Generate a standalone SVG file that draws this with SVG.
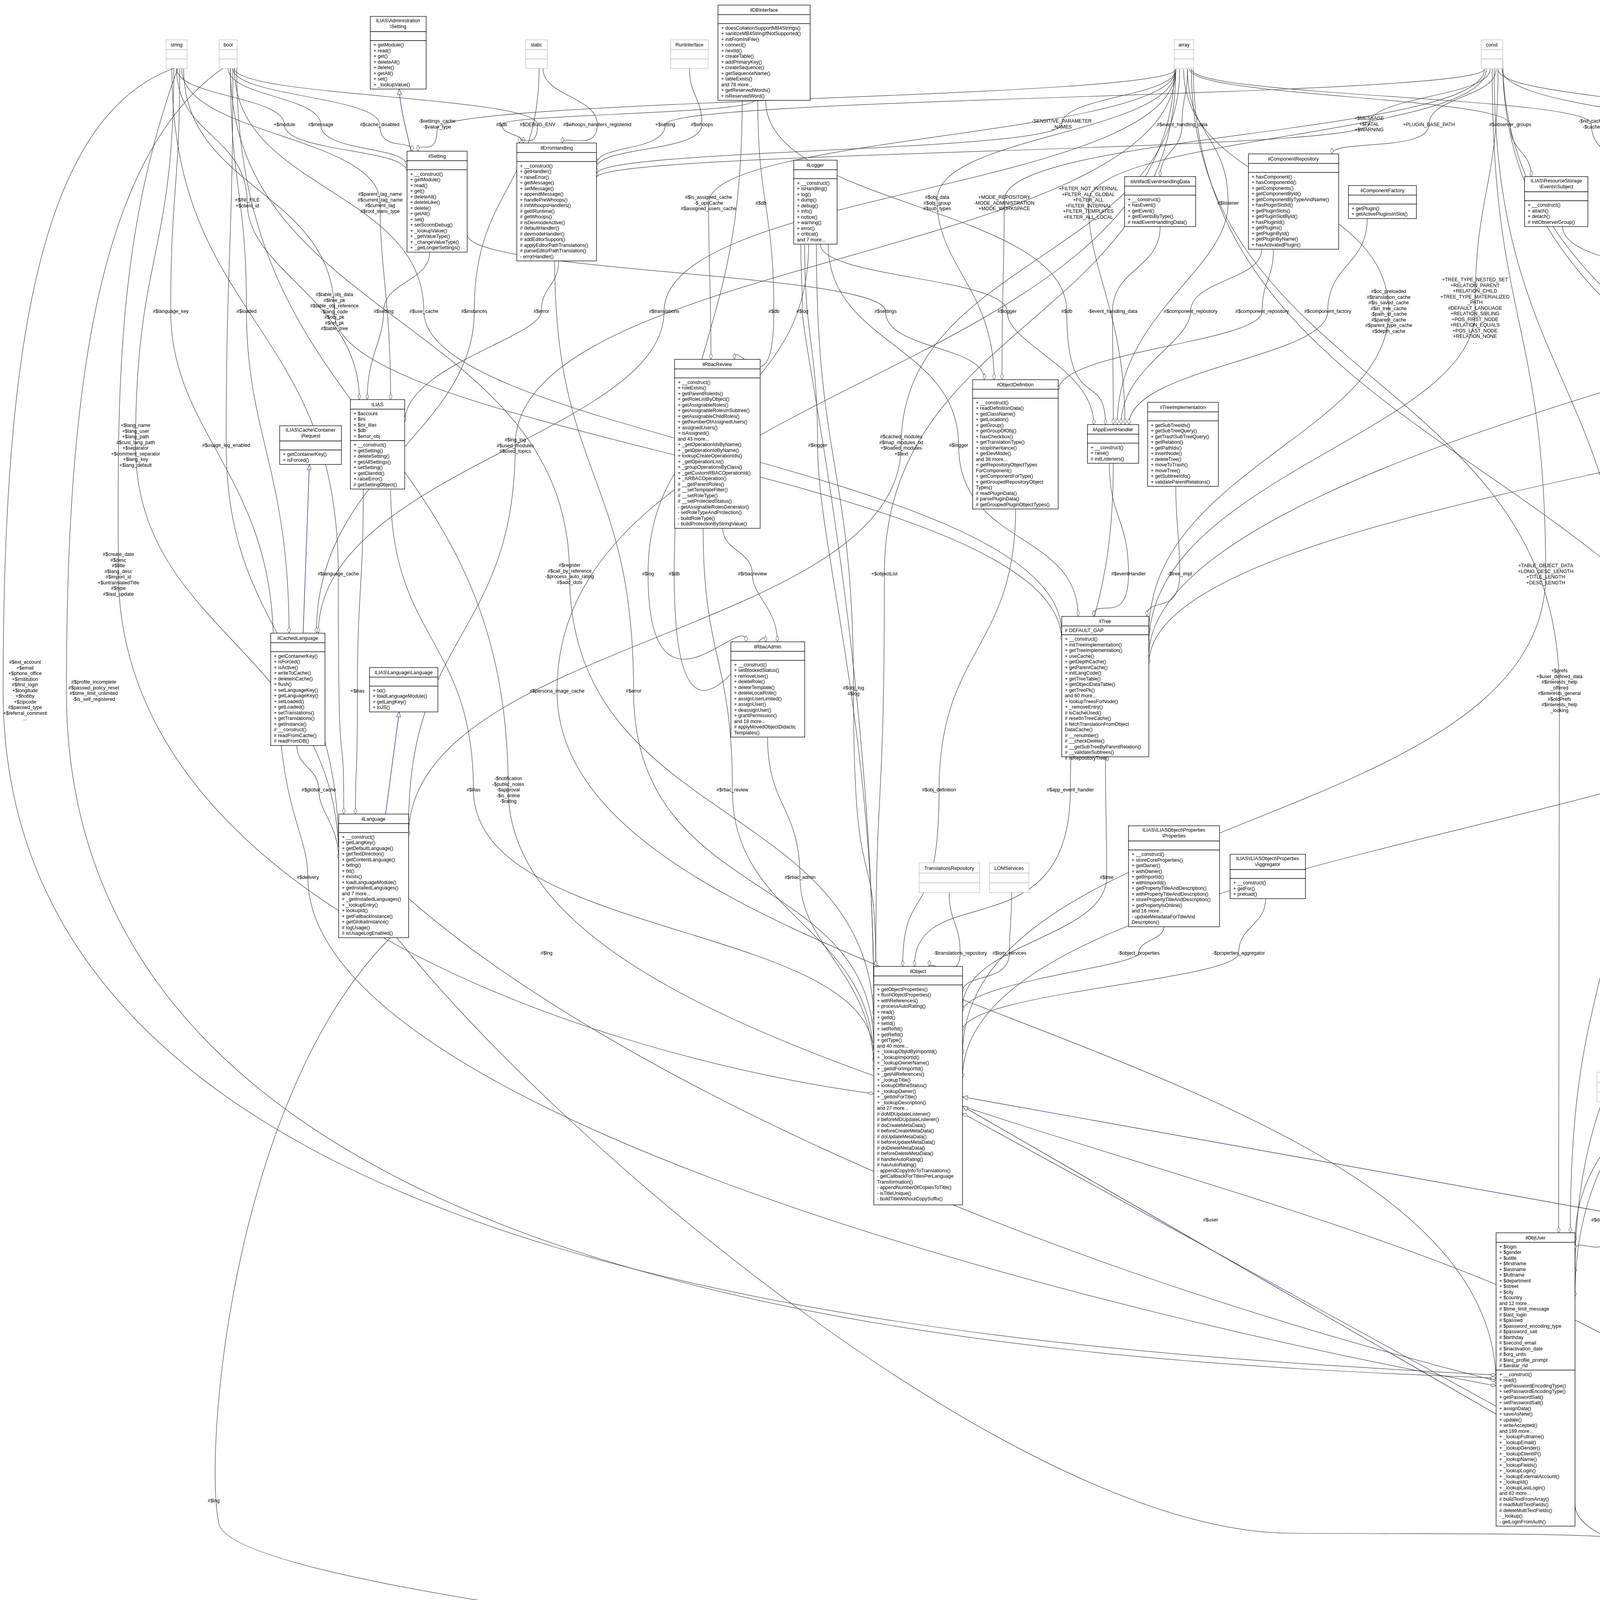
<svg xmlns="http://www.w3.org/2000/svg" width="5993" height="4473" viewBox="0 0 5993 4473">
<style>
text{font-family:"Liberation Sans",Arial,sans-serif;font-size:12.5px;fill:#000}
.t{text-anchor:middle}
.l{text-anchor:middle}
.b{fill:#fff;stroke:#000;stroke-width:1.3}
.g{fill:#fff;stroke:#bfbfbf;stroke-width:1.3}
.h{fill:#bfbfbf;stroke:#000;stroke-width:1.3}
.e{fill:none;stroke:#404040;stroke-width:1.2;marker-end:url(#d)}
.i{fill:none;stroke:#191970;stroke-width:1.2;marker-end:url(#tri)}
</style>
<defs>
<marker id="d" viewBox="0 0 16 9" refX="16" refY="4.5" markerWidth="16" markerHeight="9" orient="auto" markerUnits="userSpaceOnUse"><path d="M0.5,4.5 L8,0.5 L15.5,4.5 L8,8.5 Z" fill="#fff" stroke="#404040"/></marker>
<marker id="tri" viewBox="0 0 14 12" refX="14" refY="6" markerWidth="14" markerHeight="12" orient="auto" markerUnits="userSpaceOnUse"><path d="M0.5,0.5 L13.5,6 L0.5,11.5 Z" fill="#fff" stroke="#191970"/></marker>
</defs>
<rect width="5993" height="4473" fill="#fff"/>
<g id="connectors">
<path class="e" d="M452,175 C452,247 728,247 728,319 S1042,379 1042,440"/>
<path class="e" d="M584,175 C584,247 821,247 821,319 S1042,372 1042,425"/>
<path class="e" d="M596,175 C596,247 972,247 972,319 S1055,353 1055,387"/>
<path class="e" d="M3010,177 C3010,253 1119,253 1119,330 S1070,358 1070,387"/>
<path class="e" d="M1930,257 C1930,292 1284,292 1284,319 S1340,342 1340,366"/>
<path class="e" d="M600,175 C600,247 1376,247 1376,319 S1330,342 1330,366"/>
<path class="e" d="M1390,175 C1390,247 1529,247 1529,319 S1440,342 1440,366"/>
<path class="e" d="M1765,175 C1765,247 1797,247 1797,319 S1527,374 1527,430"/>
<path class="e" d="M3800,177 C3800,248 1703,248 1703,319 S1527,369 1527,420"/>
<path class="e" d="M3010,177 C3010,247 2718,247 2718,318 S1527,381 1527,445"/>
<path class="e" d="M3040,177 C3040,248 3026,248 3026,319 S2970,385 2970,452"/>
<path class="e" d="M3815,177 C3815,247 3505,247 3505,318 S1527,386 1527,455"/>
<path class="e" d="M3830,177 C3830,248 3658,248 3658,319 S3410,356 3410,394"/>
<path class="e" d="M3045,177 C3045,248 3866,248 3866,319 S3920,385 3920,452"/>
<path class="e" d="M3010,177 C3010,344 2399,344 2399,512 S2545,742 2545,972"/>
<path class="e" d="M3800,177 C3800,344 2571,344 2571,512 S2565,742 2565,972"/>
<path class="e" d="M3805,177 C3805,348 2786,348 2786,520 S2880,803 2880,1087"/>
<path class="e" d="M3040,177 C3040,348 3144,348 3144,520 S2860,803 2860,1087"/>
<path class="e" d="M3030,177 C3030,487 3555,487 3555,797 S2941,1208 2941,1620"/>
<path class="e" d="M3835,177 C3835,487 3776,487 3776,797 S2941,1223 2941,1650"/>
<path class="e" d="M2050,625 C2050,711 2054,711 2054,797 S2237,1698 2237,2600"/>
<path class="e" d="M1196,600 C1196,698 2267,698 2267,797 S2520,884 2520,972"/>
<path class="e" d="M2100,625 C2100,711 2578,711 2578,797 S2800,942 2800,1087"/>
<path class="e" d="M1960,257 C1960,527 2731,527 2731,797 S2830,942 2830,1087"/>
<path class="e" d="M2970,580 C2970,688 2848,688 2848,797 S2850,942 2850,1087"/>
<path class="e" d="M3230,638 C3230,717 3048,717 3048,797 S2870,942 2870,1087"/>
<path class="e" d="M3260,638 C3260,717 3231,717 3231,797 S2709,898 2709,1000"/>
<path class="e" d="M3500,560 C3500,678 3399,678 3399,797 S2890,942 2890,1087"/>
<path class="e" d="M2060,625 C2060,882 2093,882 2093,1140 S2237,1850 2237,2560"/>
<path class="e" d="M3020,177 C3020,658 2307,658 2307,1140 S1046,1640 1046,2140"/>
<path class="e" d="M2120,625 C2120,882 2454,882 2454,1140 S2760,1359 2760,1578"/>
<path class="e" d="M3010,177 C3010,823 2264,823 2264,1469 S2242,1971 2242,2474"/>
<path class="e" d="M2840,1186 C2840,1327 2889,1327 2889,1469 S2800,1523 2800,1578"/>
<path class="e" d="M3010,1245 C3010,1357 3020,1357 3020,1469 S2936,1523 2936,1578"/>
<path class="e" d="M5530,177 C5530,487 5384,487 5384,797 S2941,1248 2941,1700"/>
<path class="e" d="M4000,580 C4000,688 4429,688 4429,797 S4550,921 4550,1045"/>
<path class="e" d="M4230,640 C4230,718 4528,718 4528,797 S4575,921 4575,1045"/>
<path class="e" d="M4500,560 C4500,678 4633,678 4633,797 S4605,921 4605,1045"/>
<path class="e" d="M4706,595 C4706,696 4732,696 4732,797 S4640,921 4640,1045"/>
<path class="e" d="M4860,624 C4860,710 4874,710 4874,797 S4672,921 4672,1045"/>
<path class="e" d="M5050,566 C5050,681 4981,681 4981,797 S4680,921 4680,1045"/>
<path class="e" d="M5250,602 C5250,699 5202,699 5202,797 S4685,921 4685,1045"/>
<path class="e" d="M3835,177 C3835,248 4370,248 4370,319 S4330,510 4330,701"/>
<path class="e" d="M3050,177 C3050,247 4074,247 4074,318 S4139,384 4139,450"/>
<path class="e" d="M3845,177 C3845,348 5643,348 5643,520 S2941,1100 2941,1680"/>
<path class="e" d="M5468,1546 C5468,1993 5390,1993 5390,2440 S4772,3279 4772,4118"/>
<path class="e" d="M3847,160 C3847,1091 5193,1091 5193,2022 S4772,3047 4772,4073"/>
<path class="e" d="M3847,150 C3847,1198 5731,1198 5731,2246 S4714,3328 4714,4410"/>
<path class="e" d="M5555,177 C5555,1211 5900,1211 5900,2246 S4714,3323 4714,4400"/>
<path class="e" d="M5545,177 C5545,973 5717,973 5717,1770 S4032,2475 4032,3180"/>
<path class="e" d="M5535,177 C5535,823 5068,823 5068,1470 S2464,2115 2464,2760"/>
<path class="e" d="M3820,177 C3820,823 3957,823 3957,1470 S2464,2085 2464,2700"/>
<path class="e" d="M3050,177 C3050,973 3992,973 3992,1770 S3990,2463 3990,3156"/>
<path class="e" d="M3825,177 C3825,972 4174,972 4174,1768 S4020,2462 4020,3156"/>
<path class="e" d="M4266,887 C4266,1454 4342,1454 4342,2022 S4032,2641 4032,3260"/>
<path class="e" d="M4560,1231 C4560,1738 4437,1738 4437,2246 S4032,2783 4032,3320"/>
<path class="e" d="M3055,177 C3055,1213 4553,1213 4553,2250 S4590,3298 4590,4346"/>
<path class="e" d="M4145,2821 C4145,2965 4136,2965 4136,3110 S4032,3155 4032,3200"/>
<path class="e" d="M4032,3850 C4032,3988 4513,3988 4513,4126 S4547,4236 4547,4346"/>
<path class="e" d="M4645,4274 C4645,4293 4658,4293 4658,4313 S4632,4329 4632,4346"/>
<path class="e" d="M3830,3600 L2464,2850"/>
<path class="e" d="M1000,2400 C600,2800 520,3700 560,3900 S3000,4330 4520,4410"/>
<path class="e" d="M1046,2300 C1500,2700 2500,3200 3830,3535"/>
<path class="e" d="M1000,2380 C1400,2900 2600,3920 3300,3925 S4300,3910 4593,4020"/>
<path class="e" d="M1800,1352 C1800,1687 1875,1687 1875,2022 S2237,2371 2237,2720"/>
<path class="e" d="M1965,1887 C1965,2066 2048,2066 2048,2246 S2237,2493 2237,2740"/>
<path class="e" d="M2600,1303 C2600,1662 2404,1662 2404,2022 S2311,2248 2311,2474"/>
<path class="e" d="M2850,1186 C2850,1604 2740,1604 2740,2022 S2341,2248 2341,2474"/>
<path class="e" d="M2830,1937 C2830,2091 2833,2091 2833,2246 S2464,2413 2464,2580"/>
<path class="e" d="M2430,2285 C2430,2362 2458,2362 2458,2440 S2379,2457 2379,2474"/>
<path class="e" d="M2590,2285 C2590,2362 2584,2362 2584,2440 S2464,2490 2464,2540"/>
<path class="e" d="M2980,2372 C2980,2406 2915,2406 2915,2440 S2464,2515 2464,2590"/>
<path class="e" d="M3240,2300 C3240,2370 3171,2370 3171,2440 S2464,2540 2464,2640"/>
<path class="e" d="M1000,1252 C1000,1637 1212,1637 1212,2022 S2237,2361 2237,2700"/>
<path class="e" d="M606,175 C606,1097 1301,1097 1301,2020 S4593,3010 4593,4000"/>
<path class="e" d="M3006,177 C3006,973 1426,973 1426,1769 S3830,2657 3830,3545"/>
<path class="e" d="M1420,668 C1420,1218 1622,1218 1622,1769 S2237,2224 2237,2680"/>
<path class="e" d="M2090,625 C2090,1196 2185,1196 2185,1768 S2242,2121 2242,2474"/>
<path class="e" d="M930,1252 C930,1510 915,1510 915,1769 S910,1926 910,2084"/>
<path class="e" d="M760,1908 C760,1965 816,1965 816,2022 S867,2111 867,2200"/>
<path class="e" d="M440,175 C440,822 866,822 866,1469 S880,1776 880,2084"/>
<path class="e" d="M3010,177 C3010,658 1319,658 1319,1140 S1046,1625 1046,2110"/>
<path class="e" d="M590,175 C590,822 1458,822 1458,1470 S2237,2045 2237,2620"/>
<path class="e" d="M2070,625 C2070,1047 1659,1047 1659,1469 S1910,1556 1910,1643"/>
<path class="e" d="M1900,257 C1900,863 1726,863 1726,1469 S1960,1556 1960,1643"/>
<path class="e" d="M1850,1352 C1850,1410 1926,1410 1926,1469 S1990,1556 1990,1643"/>
<path class="e" d="M445,175 C100,300 8,900 8,1770 C8,3300 2500,3450 3830,3520"/>
<path class="e" d="M570,175 C250,400 170,1000 170,1770 C170,3350 2600,3480 3830,3528"/>
<path class="e" d="M455,175 C300,600 300,1000 303,1470 C310,2300 1500,2700 2237,2800"/>
<path class="e" d="M460,175 C460,486 437,486 437,797 S700,1223 700,1650"/>
<path class="e" d="M590,175 C590,486 631,486 631,797 S740,1209 740,1621"/>
<path class="e" d="M600,175 C600,486 1085,486 1085,797 S2718,1208 2718,1620"/>
<path class="e" d="M1380,175 C1380,486 1214,486 1214,797 S810,1209 810,1621"/>
<path class="e" d="M3010,177 C3010,487 1700,487 1700,797 S815,1209 815,1621"/>
<path class="e" d="M1940,257 C1940,527 1981,527 1981,797 S1880,858 1880,920"/>
<path class="e" d="M3010,177 C3010,348 1814,348 1814,520 S1820,720 1820,920"/>
<path class="e" d="M452,175 C452,347 633,347 633,520 S920,771 920,1023"/>
<path class="e" d="M465,175 C465,347 973,347 973,520 S1000,771 1000,1023"/>
<path class="e" d="M1100,645 C1100,721 982,721 982,797 S940,910 940,1023"/>
<path class="e" d="M1430,668 C1430,732 1386,732 1386,797 S1036,938 1036,1080"/>
<path class="e" d="M470,175 C470,487 856,487 856,800 S2718,1220 2718,1640"/>
<path class="e" d="M445,175 C445,657 347,657 347,1140 S867,1670 867,2200"/>
<path class="e" d="M596,175 C596,657 579,657 579,1140 S867,1660 867,2180"/>
<path class="e" d="M720,1908 C740,2100 788,2150 788,2246 C788,2800 2500,3300 3830,3548"/>
<path class="i" d="M1052,387 C1040,330 1025,280 1022,228"/>
<path class="i" d="M776,1621 L792,1189"/>
<path class="i" d="M987,2084 L1022,1822"/>
<path class="i" d="M5104,467 L5196,264"/>
<path class="i" d="M5325,431 L5297,264"/>
<path class="i" d="M4335,3383 C4320,3250 4260,3140 4205,3120 L2464,2808"/>
<path class="i" d="M3830,3620 L2464,2832"/>
<path class="i" d="M4600,3972 L4421,3680"/>
</g>
<g id="labels">
<text class="l" x="728" y="323">+$module</text>
<text class="l" x="821" y="323">#$message</text>
<text class="l" x="972" y="323">#$cache_disabled</text>
<text class="l" x="1119" y="314">-$settings_cache<tspan x="1119" dy="14.5">-$value_type</tspan></text>
<text class="l" x="1284" y="323">#$db</text>
<text class="l" x="1376" y="323">#$DEBUG_ENV</text>
<text class="l" x="1529" y="323">#$whoops_handlers_registered</text>
<text class="l" x="1703" y="323">+$setting</text>
<text class="l" x="1797" y="323">#$whoops</text>
<text class="l" x="633" y="516">+$INI_FILE<tspan x="633" dy="14.5">+$client_id</tspan></text>
<text class="l" x="973" y="501">#$parent_tag_name<tspan x="973" dy="14.5">#$current_tag_name</tspan><tspan x="973" dy="14.5">#$current_tag</tspan><tspan x="973" dy="14.5">#$root_trans_type</tspan></text>
<text class="l" x="1814" y="509">#$is_assigned_cache<tspan x="1814" dy="14.5">-$_opsCache</tspan><tspan x="1814" dy="14.5">#$assigned_users_cache</tspan></text>
<text class="l" x="1948" y="524">#$db</text>
<text class="l" x="856" y="758">#$table_obj_data<tspan x="856" dy="14.5">#$tree_pk</tspan><tspan x="856" dy="14.5">#$table_obj_reference</tspan><tspan x="856" dy="14.5">-$lang_code</tspan><tspan x="856" dy="14.5">#$obj_pk</tspan><tspan x="856" dy="14.5">#$ref_pk</tspan><tspan x="856" dy="14.5">#$table_tree</tspan></text>
<text class="l" x="437" y="801">#$language_key</text>
<text class="l" x="631" y="801">#$loaded</text>
<text class="l" x="982" y="801">#$setting</text>
<text class="l" x="1085" y="801">#$use_cache</text>
<text class="l" x="1214" y="801">#$instances</text>
<text class="l" x="1386" y="801">#$error</text>
<text class="l" x="1700" y="801">#$translations</text>
<text class="l" x="1981" y="801">#$db</text>
<text class="l" x="347" y="1093">+$lang_name<tspan x="347" dy="14.5">+$lang_user</tspan><tspan x="347" dy="14.5">+$lang_path</tspan><tspan x="347" dy="14.5">#$cust_lang_path</tspan><tspan x="347" dy="14.5">+$separator</tspan><tspan x="347" dy="14.5">+$comment_separator</tspan><tspan x="347" dy="14.5">+$lang_key</tspan><tspan x="347" dy="14.5">+$lang_default</tspan></text>
<text class="l" x="579" y="1144">#$usage_log_enabled</text>
<text class="l" x="1319" y="1130">#$lng_log<tspan x="1319" dy="14.5">#$used_modules</tspan><tspan x="1319" dy="14.5">#$used_topics</tspan></text>
<text class="l" x="303" y="1423">#$create_date<tspan x="303" dy="14.5">#$desc</tspan><tspan x="303" dy="14.5">#$title</tspan><tspan x="303" dy="14.5">#$lang_desc</tspan><tspan x="303" dy="14.5">#$import_id</tspan><tspan x="303" dy="14.5">+$untranslatedTitle</tspan><tspan x="303" dy="14.5">#$type</tspan><tspan x="303" dy="14.5">#$last_update</tspan></text>
<text class="l" x="866" y="1473">#$language_cache</text>
<text class="l" x="1458" y="1451">#$register<tspan x="1458" dy="14.5">#$call_by_reference</tspan><tspan x="1458" dy="14.5">-$process_auto_rating</tspan><tspan x="1458" dy="14.5">#$add_dots</tspan></text>
<text class="l" x="1659" y="1473">#$log</text>
<text class="l" x="1726" y="1473">#$db</text>
<text class="l" x="1926" y="1473">#$rbacreview</text>
<text class="l" x="2718" y="314">-SENSITIVE_PARAMETER<tspan x="2718" dy="14.5">_NAMES</tspan></text>
<text class="l" x="3026" y="323">#$event_handling_data</text>
<text class="l" x="3505" y="307">+$MESSAGE<tspan x="3505" dy="14.5">+$FATAL</tspan><tspan x="3505" dy="14.5">+$WARNING</tspan></text>
<text class="l" x="3658" y="323">+PLUGIN_BASE_PATH</text>
<text class="l" x="3866" y="323">#$observer_groups</text>
<text class="l" x="2399" y="509">#$obj_data<tspan x="2399" dy="14.5">#$obj_group</tspan><tspan x="2399" dy="14.5">#$sub_types</tspan></text>
<text class="l" x="2571" y="509">+MODE_REPOSITORY<tspan x="2571" dy="14.5">-MODE_ADMINISTRATION</tspan><tspan x="2571" dy="14.5">+MODE_WORKSPACE</tspan></text>
<text class="l" x="2786" y="487">+FILTER_NOT_INTERNAL<tspan x="2786" dy="14.5">+FILTER_ALL_GLOBAL</tspan><tspan x="2786" dy="14.5">+FILTER_ALL</tspan><tspan x="2786" dy="14.5">+FILTER_INTERNAL</tspan><tspan x="2786" dy="14.5">+FILTER_TEMPLATES</tspan><tspan x="2786" dy="14.5">+FILTER_ALL_LOCAL</tspan></text>
<text class="l" x="3144" y="524">#$listener</text>
<text class="l" x="3555" y="750">#$oc_preloaded<tspan x="3555" dy="14.5">#$translation_cache</tspan><tspan x="3555" dy="14.5">#$is_saved_cache</tspan><tspan x="3555" dy="14.5">#$in_tree_cache</tspan><tspan x="3555" dy="14.5">-$path_id_cache</tspan><tspan x="3555" dy="14.5">#$parent_cache</tspan><tspan x="3555" dy="14.5">#$parent_type_cache</tspan><tspan x="3555" dy="14.5">#$depth_cache</tspan></text>
<text class="l" x="3776" y="720">+TREE_TYPE_NESTED_SET<tspan x="3776" dy="14.5">+RELATION_PARENT</tspan><tspan x="3776" dy="14.5">+RELATION_CHILD</tspan><tspan x="3776" dy="14.5">+TREE_TYPE_MATERIALIZED</tspan><tspan x="3776" dy="14.5">_PATH</tspan><tspan x="3776" dy="14.5">#DEFAULT_LANGUAGE</tspan><tspan x="3776" dy="14.5">+RELATION_SIBLING</tspan><tspan x="3776" dy="14.5">+POS_FIRST_NODE</tspan><tspan x="3776" dy="14.5">+RELATION_EQUALS</tspan><tspan x="3776" dy="14.5">+POS_LAST_NODE</tspan><tspan x="3776" dy="14.5">+RELATION_NONE</tspan><tspan x="3776" dy="14.5">...</tspan></text>
<text class="l" x="2054" y="801">#$log</text>
<text class="l" x="2267" y="801">#$settings</text>
<text class="l" x="2578" y="801">#$logger</text>
<text class="l" x="2731" y="801">#$db</text>
<text class="l" x="2848" y="801">-$event_handling_data</text>
<text class="l" x="3048" y="801">#$component_repository</text>
<text class="l" x="3231" y="801">#$component_repository</text>
<text class="l" x="3399" y="801">#$component_factory</text>
<text class="l" x="2093" y="1144">#$logger</text>
<text class="l" x="2307" y="1122">#$cached_modules<tspan x="2307" dy="14.5">#$map_modules_txt</tspan><tspan x="2307" dy="14.5">+$loaded_modules</tspan><tspan x="2307" dy="14.5">+$text</tspan></text>
<text class="l" x="2454" y="1144">#$logger</text>
<text class="l" x="2264" y="1473">+$objectList</text>
<text class="l" x="2889" y="1473">#$eventHandler</text>
<text class="l" x="3020" y="1473">-$tree_impl</text>
<text class="l" x="3957" y="1452">+TABLE_OBJECT_DATA<tspan x="3957" dy="14.5">+LONG_DESC_LENGTH</tspan><tspan x="3957" dy="14.5">+TITLE_LENGTH</tspan><tspan x="3957" dy="14.5">+DESC_LENGTH</tspan></text>
<text class="l" x="3992" y="1721">+$prefs<tspan x="3992" dy="14.5">+$user_defined_data</tspan><tspan x="3992" dy="14.5">#$interests_help</tspan><tspan x="3992" dy="14.5">_offered</tspan><tspan x="3992" dy="14.5">#$interests_general</tspan><tspan x="3992" dy="14.5">#$oldPrefs</tspan><tspan x="3992" dy="14.5">#$interests_help</tspan><tspan x="3992" dy="14.5">_looking</tspan></text>
<text class="l" x="4174" y="1758">+PASSWD_CRYPTED<tspan x="4174" dy="14.5">+NO_AVATAR_RID</tspan><tspan x="4174" dy="14.5">+PASSWD_PLAIN</tspan></text>
<text class="l" x="4342" y="2019">-$cron_delete_user<tspan x="4342" dy="14.5">_reminder_mail</tspan></text>
<text class="l" x="4074" y="314">-$rid_cache<tspan x="4074" dy="14.5">-$cache</tspan></text>
<text class="l" x="4370" y="323">+TABLE_NAME</text>
<text class="l" x="5643" y="524">-TABLE_NAME</text>
<text class="l" x="4429" y="801">#$events</text>
<text class="l" x="4528" y="801">#$collections</text>
<text class="l" x="4633" y="801">#$preloader</text>
<text class="l" x="4732" y="801">#$flavours</text>
<text class="l" x="4874" y="801">#$consumers</text>
<text class="l" x="4981" y="801">#$manager</text>
<text class="l" x="5202" y="801">#$container_manager</text>
<text class="l" x="5384" y="786">#$tree_id<tspan x="5384" dy="14.5">-$gap</tspan><tspan x="5384" dy="14.5">#$root_id</tspan></text>
<text class="l" x="5068" y="1451">#$ref_id<tspan x="5068" dy="14.5">#$max_desc</tspan><tspan x="5068" dy="14.5">#$max_title</tspan><tspan x="5068" dy="14.5">#$owner</tspan></text>
<text class="l" x="64" y="1699">#$ext_account<tspan x="64" dy="14.5">+$email</tspan><tspan x="64" dy="14.5">+$phone_office</tspan><tspan x="64" dy="14.5">+$institution</tspan><tspan x="64" dy="14.5">#$first_login</tspan><tspan x="64" dy="14.5">+$longitude</tspan><tspan x="64" dy="14.5">+$hobby</tspan><tspan x="64" dy="14.5">+$zipcode</tspan><tspan x="64" dy="14.5">#$passwd_type</tspan><tspan x="64" dy="14.5">+$referral_comment</tspan><tspan x="64" dy="14.5">...</tspan></text>
<text class="l" x="240" y="1750">#$profile_incomplete<tspan x="240" dy="14.5">#$passwd_policy_reset</tspan><tspan x="240" dy="14.5">#$time_limit_unlimited</tspan><tspan x="240" dy="14.5">-$is_self_registered</tspan></text>
<text class="l" x="816" y="2026">#$global_cache</text>
<text class="l" x="915" y="1773">+$ilias</text>
<text class="l" x="1212" y="2026">#$ilias</text>
<text class="l" x="1301" y="1997">-$notification<tspan x="1301" dy="14.5">-$public_notes</tspan><tspan x="1301" dy="14.5">-$approval</tspan><tspan x="1301" dy="14.5">-$is_online</tspan><tspan x="1301" dy="14.5">-$rating</tspan></text>
<text class="l" x="1426" y="1773">#$persona_image_cache</text>
<text class="l" x="1622" y="1773">#$error</text>
<text class="l" x="1875" y="2026">#$rbac_review</text>
<text class="l" x="788" y="2250">#$delivery</text>
<text class="l" x="1399" y="2444">#$lng</text>
<text class="l" x="2185" y="1765">#$obj_log<tspan x="2185" dy="14.5">#$log</tspan></text>
<text class="l" x="2404" y="2026">#$obj_definition</text>
<text class="l" x="2740" y="2026">#$app_event_handler</text>
<text class="l" x="2048" y="2250">#$rbac_admin</text>
<text class="l" x="2833" y="2250">#$tree</text>
<text class="l" x="2458" y="2444">-$translations_repository</text>
<text class="l" x="2584" y="2444">#$lom_services</text>
<text class="l" x="2915" y="2444">-$object_properties</text>
<text class="l" x="3171" y="2444">-$properties_aggregator</text>
<text class="l" x="4437" y="2250">-$rss</text>
<text class="l" x="4615" y="2228">#$supported_import<tspan x="4615" dy="14.5">_datatypes</tspan><tspan x="4615" dy="14.5">#$warnings</tspan><tspan x="4615" dy="14.5">#$tables</tspan></text>
<text class="l" x="5218" y="2026">+TYPE</text>
<text class="l" x="5464" y="2444">-$notification_settings</text>
<text class="l" x="5717" y="1735">#$time_limit_owner<tspan x="5717" dy="14.5">+$active</tspan><tspan x="5717" dy="14.5">#$time_limit_from</tspan><tspan x="5717" dy="14.5">#$time_limit_until</tspan><tspan x="5717" dy="14.5">+$login_attempts</tspan><tspan x="5717" dy="14.5">+$last_password_change_ts</tspan></text>
<text class="l" x="5798" y="2250">+EXPORT_EXCEL</text>
<text class="l" x="5952" y="2235">#$ref_id<tspan x="5952" dy="14.5">#$max_imports</tspan><tspan x="5952" dy="14.5">#$table_id</tspan></text>
<text class="l" x="3099" y="3127">#$user</text>
<text class="l" x="4136" y="3127">#$date_format_factory</text>
<text class="l" x="4513" y="4130">#$user</text>
<text class="l" x="4658" y="4317">#$dcl</text>
<text class="l" x="547" y="3846">#$lng</text>
</g>
<g id="n_string"><rect class="g" x="425" y="102" width="54" height="25"/><rect class="g" x="425" y="127" width="54" height="24"/><rect class="g" x="425" y="151" width="54" height="24"/><text class="t" x="452" y="119">string</text></g>
<g id="n_bool"><rect class="g" x="561" y="102" width="46" height="25"/><rect class="g" x="561" y="127" width="46" height="24"/><rect class="g" x="561" y="151" width="46" height="24"/><text class="t" x="584" y="119">bool</text></g>
<g id="n_static"><rect class="g" x="1346" y="102" width="55" height="25"/><rect class="g" x="1346" y="127" width="55" height="24"/><rect class="g" x="1346" y="151" width="55" height="24"/><text class="t" x="1373" y="119">static</text></g>
<g id="n_RunInterface"><rect class="g" x="1717" y="102" width="96" height="25"/><rect class="g" x="1717" y="127" width="96" height="24"/><rect class="g" x="1717" y="151" width="96" height="24"/><text class="t" x="1765" y="119">RunInterface</text></g>
<g id="n_array"><rect class="g" x="3006" y="102" width="50" height="25"/><rect class="g" x="3006" y="127" width="50" height="24"/><rect class="g" x="3006" y="151" width="50" height="24"/><text class="t" x="3031" y="119">array</text></g>
<g id="n_const"><rect class="g" x="3792" y="102" width="55" height="25"/><rect class="g" x="3792" y="127" width="55" height="24"/><rect class="g" x="3792" y="151" width="55" height="24"/><text class="t" x="3819" y="119">const</text></g>
<g id="n_int"><rect class="g" x="5522" y="102" width="38" height="25"/><rect class="g" x="5522" y="127" width="38" height="24"/><rect class="g" x="5522" y="151" width="38" height="24"/><text class="t" x="5541" y="119">int</text></g>
<g id="n_TranslationsRepository"><rect class="g" x="2353" y="2209" width="155" height="26"/><rect class="g" x="2353" y="2235" width="155" height="25"/><rect class="g" x="2353" y="2260" width="155" height="25"/><text class="t" x="2430" y="2227">TranslationsRepository</text></g>
<g id="n_LOMServices"><rect class="g" x="2533" y="2209" width="101" height="26"/><rect class="g" x="2533" y="2235" width="101" height="25"/><rect class="g" x="2533" y="2260" width="101" height="25"/><text class="t" x="2583" y="2227">LOMServices</text></g>
<g id="n_DateFormatFactory"><rect class="g" x="4088" y="2745" width="135" height="26"/><rect class="g" x="4088" y="2771" width="135" height="25"/><rect class="g" x="4088" y="2796" width="135" height="25"/><text class="t" x="4155" y="2763">DateFormatFactory</text></g>
<g id="n_AdminSetting"><rect class="b" x="948" y="42" width="143" height="39"/><rect class="b" x="948" y="81" width="143" height="23"/><rect class="b" x="948" y="104" width="143" height="124"/>
<text class="t" x="1019" y="57">ILIAS\Administration<tspan x="1019" dy="14.5">\Setting</tspan></text>
<text x="956" y="119">+ getModule()<tspan x="956" dy="14.5">+ read()</tspan><tspan x="956" dy="14.5">+ get()</tspan><tspan x="956" dy="14.5">+ deleteAll()</tspan><tspan x="956" dy="14.5">+ delete()</tspan><tspan x="956" dy="14.5">+ getAll()</tspan><tspan x="956" dy="14.5">+ set()</tspan><tspan x="956" dy="14.5">+ _lookupValue()</tspan></text></g>
<g id="n_ilDBInterface"><rect class="b" x="1838" y="13" width="236" height="24.5"/><rect class="b" x="1838" y="37.5" width="236" height="23"/><rect class="b" x="1838" y="60.5" width="236" height="196.5"/>
<text class="t" x="1956" y="30">ilDBInterface</text>
<text x="1846" y="75.5">+ doesCollationSupportMB4Strings()<tspan x="1846" dy="14.5">+ sanitizeMB4StringIfNotSupported()</tspan><tspan x="1846" dy="14.5">+ initFromIniFile()</tspan><tspan x="1846" dy="14.5">+ connect()</tspan><tspan x="1846" dy="14.5">+ nextId()</tspan><tspan x="1846" dy="14.5">+ createTable()</tspan><tspan x="1846" dy="14.5">+ addPrimaryKey()</tspan><tspan x="1846" dy="14.5">+ createSequence()</tspan><tspan x="1846" dy="14.5">+ getSequenceName()</tspan><tspan x="1846" dy="14.5">+ tableExists()</tspan><tspan x="1846" dy="14.5">and 78 more...</tspan><tspan x="1846" dy="14.5">+ getReservedWords()</tspan><tspan x="1846" dy="14.5">+ isReservedWord()</tspan></text></g>
<g id="n_ilSetting"><rect class="b" x="1042" y="387" width="154" height="24.5"/><rect class="b" x="1042" y="411.5" width="154" height="23"/><rect class="b" x="1042" y="434.5" width="154" height="211"/>
<text class="t" x="1119" y="404">ilSetting</text>
<text x="1050" y="449.5">+ __construct()<tspan x="1050" dy="14.5">+ getModule()</tspan><tspan x="1050" dy="14.5">+ read()</tspan><tspan x="1050" dy="14.5">+ get()</tspan><tspan x="1050" dy="14.5">+ deleteAll()</tspan><tspan x="1050" dy="14.5">+ deleteLike()</tspan><tspan x="1050" dy="14.5">+ delete()</tspan><tspan x="1050" dy="14.5">+ getAll()</tspan><tspan x="1050" dy="14.5">+ set()</tspan><tspan x="1050" dy="14.5">+ setScormDebug()</tspan><tspan x="1050" dy="14.5">+ _lookupValue()</tspan><tspan x="1050" dy="14.5">+ _getValueType()</tspan><tspan x="1050" dy="14.5">+ _changeValueType()</tspan><tspan x="1050" dy="14.5">+ _getLongerSettings()</tspan></text></g>
<g id="n_ilErrorHandling"><rect class="b" x="1323" y="366" width="204" height="24.5"/><rect class="b" x="1323" y="390.5" width="204" height="23"/><rect class="b" x="1323" y="413.5" width="204" height="254.5"/>
<text class="t" x="1425" y="383">ilErrorHandling</text>
<text x="1331" y="428.5">+ __construct()<tspan x="1331" dy="14.5">+ getHandler()</tspan><tspan x="1331" dy="14.5">+ raiseError()</tspan><tspan x="1331" dy="14.5">+ getMessage()</tspan><tspan x="1331" dy="14.5">+ setMessage()</tspan><tspan x="1331" dy="14.5">+ appendMessage()</tspan><tspan x="1331" dy="14.5">+ handlePreWhoops()</tspan><tspan x="1331" dy="14.5"># initWhoopsHandlers()</tspan><tspan x="1331" dy="14.5"># getIlRuntime()</tspan><tspan x="1331" dy="14.5"># getWhoops()</tspan><tspan x="1331" dy="14.5"># isDevmodeActive()</tspan><tspan x="1331" dy="14.5"># defaultHandler()</tspan><tspan x="1331" dy="14.5"># devmodeHandler()</tspan><tspan x="1331" dy="14.5"># addEditorSupport()</tspan><tspan x="1331" dy="14.5"># applyEditorPathTranslations()</tspan><tspan x="1331" dy="14.5"># parseEditorPathTranslation()</tspan><tspan x="1331" dy="14.5">- errorHandler()</tspan></text></g>
<g id="n_ILIAS"><rect class="b" x="897" y="1023" width="139" height="24.5"/><rect class="b" x="897" y="1047.5" width="139" height="80.5"/><rect class="b" x="897" y="1128" width="139" height="124"/>
<text class="t" x="966" y="1040">ILIAS</text>
<text x="905" y="1062.5">+ $account<tspan x="905" dy="14.5">+ $ini</tspan><tspan x="905" dy="14.5">+ $ini_ilias</tspan><tspan x="905" dy="14.5">+ $db</tspan><tspan x="905" dy="14.5">+ $error_obj</tspan></text>
<text x="905" y="1143">+ __construct()<tspan x="905" dy="14.5">+ getSetting()</tspan><tspan x="905" dy="14.5">+ deleteSetting()</tspan><tspan x="905" dy="14.5">+ getAllSettings()</tspan><tspan x="905" dy="14.5">+ setSetting()</tspan><tspan x="905" dy="14.5">+ getClientId()</tspan><tspan x="905" dy="14.5">+ raiseError()</tspan><tspan x="905" dy="14.5"># getSettingObject()</tspan></text></g>
<g id="n_CacheRequest"><rect class="b" x="716" y="1090" width="158" height="39"/><rect class="b" x="716" y="1129" width="158" height="23"/><rect class="b" x="716" y="1152" width="158" height="37"/>
<text class="t" x="795" y="1105">ILIAS\Cache\Container<tspan x="795" dy="14.5">\Request</tspan></text>
<text x="724" y="1167">+ getContainerKey()<tspan x="724" dy="14.5">+ isForced()</tspan></text></g>
<g id="n_ilRbacReview"><rect class="b" x="1727" y="920" width="219" height="24.5"/><rect class="b" x="1727" y="944.5" width="219" height="23"/><rect class="b" x="1727" y="967.5" width="219" height="385"/>
<text class="t" x="1836" y="937">ilRbacReview</text>
<text x="1735" y="982.5">+ __construct()<tspan x="1735" dy="14.5">+ roleExists()</tspan><tspan x="1735" dy="14.5">+ getParentRoleIds()</tspan><tspan x="1735" dy="14.5">+ getRoleListByObject()</tspan><tspan x="1735" dy="14.5">+ getAssignableRoles()</tspan><tspan x="1735" dy="14.5">+ getAssignableRolesInSubtree()</tspan><tspan x="1735" dy="14.5">+ getAssignableChildRoles()</tspan><tspan x="1735" dy="14.5">+ getNumberOfAssignedUsers()</tspan><tspan x="1735" dy="14.5">+ assignedUsers()</tspan><tspan x="1735" dy="14.5">+ isAssigned()</tspan><tspan x="1735" dy="14.5">and 43 more...</tspan><tspan x="1735" dy="14.5">+ _getOperationIdsByName()</tspan><tspan x="1735" dy="14.5">+ _getOperationIdByName()</tspan><tspan x="1735" dy="14.5">+ lookupCreateOperationIds()</tspan><tspan x="1735" dy="14.5">+ _getOperationList()</tspan><tspan x="1735" dy="14.5">+ _groupOperationsByClass()</tspan><tspan x="1735" dy="14.5">+ _getCustomRBACOperationId()</tspan><tspan x="1735" dy="14.5">+ _isRBACOperation()</tspan><tspan x="1735" dy="14.5"># __getParentRoles()</tspan><tspan x="1735" dy="14.5"># __setTemplateFilter()</tspan><tspan x="1735" dy="14.5"># __setRoleType()</tspan><tspan x="1735" dy="14.5"># __setProtectedStatus()</tspan><tspan x="1735" dy="14.5">- getAssignableRolesGenerator()</tspan><tspan x="1735" dy="14.5">- setRoleTypeAndProtection()</tspan><tspan x="1735" dy="14.5">- buildRoleType()</tspan><tspan x="1735" dy="14.5">- buildProtectionByStringValue()</tspan></text></g>
<g id="n_ilLogger"><rect class="b" x="2032" y="410" width="111" height="24.5"/><rect class="b" x="2032" y="434.5" width="111" height="23"/><rect class="b" x="2032" y="457.5" width="111" height="167.5"/>
<text class="t" x="2087" y="427">ilLogger</text>
<text x="2040" y="472.5">+ __construct()<tspan x="2040" dy="14.5">+ isHandling()</tspan><tspan x="2040" dy="14.5">+ log()</tspan><tspan x="2040" dy="14.5">+ dump()</tspan><tspan x="2040" dy="14.5">+ debug()</tspan><tspan x="2040" dy="14.5">+ info()</tspan><tspan x="2040" dy="14.5">+ notice()</tspan><tspan x="2040" dy="14.5">+ warning()</tspan><tspan x="2040" dy="14.5">+ error()</tspan><tspan x="2040" dy="14.5">+ critical()</tspan><tspan x="2040" dy="14.5">and 7 more...</tspan></text></g>
<g id="n_ilArtifactEventHandlingData"><rect class="b" x="2879" y="452" width="182" height="24.5"/><rect class="b" x="2879" y="476.5" width="182" height="23"/><rect class="b" x="2879" y="499.5" width="182" height="80.5"/>
<text class="t" x="2970" y="469">ilArtifactEventHandlingData</text>
<text x="2887" y="514.5">+ __construct()<tspan x="2887" dy="14.5">+ hasEvent()</tspan><tspan x="2887" dy="14.5">+ getEvent()</tspan><tspan x="2887" dy="14.5">+ getEventsByType()</tspan><tspan x="2887" dy="14.5"># readEventHandlingData()</tspan></text></g>
<g id="n_ilComponentRepository"><rect class="b" x="3196" y="394" width="231" height="24.5"/><rect class="b" x="3196" y="418.5" width="231" height="23"/><rect class="b" x="3196" y="441.5" width="231" height="196.5"/>
<text class="t" x="3311" y="411">ilComponentRepository</text>
<text x="3204" y="456.5">+ hasComponent()<tspan x="3204" dy="14.5">+ hasComponentId()</tspan><tspan x="3204" dy="14.5">+ getComponents()</tspan><tspan x="3204" dy="14.5">+ getComponentById()</tspan><tspan x="3204" dy="14.5">+ getComponentByTypeAndName()</tspan><tspan x="3204" dy="14.5">+ hasPluginSlotId()</tspan><tspan x="3204" dy="14.5">+ getPluginSlots()</tspan><tspan x="3204" dy="14.5">+ getPluginSlotById()</tspan><tspan x="3204" dy="14.5">+ hasPluginId()</tspan><tspan x="3204" dy="14.5">+ getPlugins()</tspan><tspan x="3204" dy="14.5">+ getPluginById()</tspan><tspan x="3204" dy="14.5">+ getPluginByName()</tspan><tspan x="3204" dy="14.5">+ hasActivatedPlugin()</tspan></text></g>
<g id="n_ilComponentFactory"><rect class="b" x="3452" y="475" width="174" height="24.5"/><rect class="b" x="3452" y="499.5" width="174" height="23"/><rect class="b" x="3452" y="522.5" width="174" height="37"/>
<text class="t" x="3539" y="492">ilComponentFactory</text>
<text x="3460" y="537.5">+ getPlugin()<tspan x="3460" dy="14.5">+ getActivePluginsInSlot()</tspan></text></g>
<g id="n_EventsSubject"><rect class="b" x="3903" y="452" width="162" height="39"/><rect class="b" x="3903" y="491" width="162" height="23"/><rect class="b" x="3903" y="514" width="162" height="66"/>
<text class="t" x="3984" y="467">ILIAS\ResourceStorage<tspan x="3984" dy="14.5">\Events\Subject</tspan></text>
<text x="3911" y="529">+ __construct()<tspan x="3911" dy="14.5">+ attach()</tspan><tspan x="3911" dy="14.5">+ detach()</tspan><tspan x="3911" dy="14.5"># initObserverGroup()</tspan></text></g>
<g id="n_ilObjectDefinition"><rect class="b" x="2490" y="972" width="219" height="24.5"/><rect class="b" x="2490" y="996.5" width="219" height="23"/><rect class="b" x="2490" y="1019.5" width="219" height="283.5"/>
<text class="t" x="2599" y="989">ilObjectDefinition</text>
<text x="2498" y="1034.5">+ __construct()<tspan x="2498" dy="14.5">+ readDefinitionData()</tspan><tspan x="2498" dy="14.5">+ getClassName()</tspan><tspan x="2498" dy="14.5">+ getLocation()</tspan><tspan x="2498" dy="14.5">+ getGroup()</tspan><tspan x="2498" dy="14.5">+ getGroupOfObj()</tspan><tspan x="2498" dy="14.5">+ hasCheckbox()</tspan><tspan x="2498" dy="14.5">+ getTranslationType()</tspan><tspan x="2498" dy="14.5">+ stopInheritance()</tspan><tspan x="2498" dy="14.5">+ getDevMode()</tspan><tspan x="2498" dy="14.5">and 38 more...</tspan><tspan x="2498" dy="14.5">+ getRepositoryObjectTypes</tspan><tspan x="2498" dy="14.5">ForComponent()</tspan><tspan x="2498" dy="14.5">+ getComponentForType()</tspan><tspan x="2498" dy="14.5">+ getGroupedRepositoryObject</tspan><tspan x="2498" dy="14.5">Types()</tspan><tspan x="2498" dy="14.5"># readPluginData()</tspan><tspan x="2498" dy="14.5"># parsePluginData()</tspan><tspan x="2498" dy="14.5"># getGroupedPluginObjectTypes()</tspan></text></g>
<g id="n_ilAppEventHandler"><rect class="b" x="2784" y="1087" width="131" height="24.5"/><rect class="b" x="2784" y="1111.5" width="131" height="23"/><rect class="b" x="2784" y="1134.5" width="131" height="51.5"/>
<text class="t" x="2849" y="1104">ilAppEventHandler</text>
<text x="2792" y="1149.5">+ __construct()<tspan x="2792" dy="14.5">+ raise()</tspan><tspan x="2792" dy="14.5"># initListeners()</tspan></text></g>
<g id="n_ilTreeImplementation"><rect class="b" x="2938" y="1030" width="181" height="24.5"/><rect class="b" x="2938" y="1054.5" width="181" height="23"/><rect class="b" x="2938" y="1077.5" width="181" height="167.5"/>
<text class="t" x="3028" y="1047">ilTreeImplementation</text>
<text x="2946" y="1092.5">+ getSubTreeIds()<tspan x="2946" dy="14.5">+ getSubTreeQuery()</tspan><tspan x="2946" dy="14.5">+ getTrashSubTreeQuery()</tspan><tspan x="2946" dy="14.5">+ getRelation()</tspan><tspan x="2946" dy="14.5">+ getPathIds()</tspan><tspan x="2946" dy="14.5">+ insertNode()</tspan><tspan x="2946" dy="14.5">+ deleteTree()</tspan><tspan x="2946" dy="14.5">+ moveToTrash()</tspan><tspan x="2946" dy="14.5">+ moveTree()</tspan><tspan x="2946" dy="14.5">+ getSubtreeInfo()</tspan><tspan x="2946" dy="14.5">+ validateParentRelations()</tspan></text></g>
<g id="n_BaseManager"><rect class="b" x="5152" y="5" width="236" height="39"/><rect class="b" x="5152" y="44" width="236" height="23"/><rect class="b" x="5152" y="67" width="236" height="196.5"/>
<text class="t" x="5270" y="20">ILIAS\ResourceStorage<tspan x="5270" dy="14.5">\Manager\BaseManager</tspan></text>
<text x="5160" y="82">+ __construct()<tspan x="5160" dy="14.5">+ publish()</tspan><tspan x="5160" dy="14.5">+ unpublish()</tspan><tspan x="5160" dy="14.5">+ find()</tspan><tspan x="5160" dy="14.5">+ getResource()</tspan><tspan x="5160" dy="14.5">+ remove()</tspan><tspan x="5160" dy="14.5">+ clone()</tspan><tspan x="5160" dy="14.5">+ appendNewRevision()</tspan><tspan x="5160" dy="14.5">+ replaceWithUpload()</tspan><tspan x="5160" dy="14.5">+ appendNewRevisionFromStream()</tspan><tspan x="5160" dy="14.5">and 6 more...</tspan><tspan x="5160" dy="14.5"># checkZIP()</tspan><tspan x="5160" dy="14.5"># newStreamBased()</tspan></text></g>
<g id="n_Collections"><rect class="b" x="4139" y="396" width="184" height="53.5"/><rect class="b" x="4139" y="449.5" width="184" height="23"/><rect class="b" x="4139" y="472.5" width="184" height="167.5"/>
<text class="t" x="4231" y="411">ILIAS\Export\ImportHandler<tspan x="4231" dy="14.5">\Parser\NodeInfo\Collection</tspan><tspan x="4231" dy="14.5">\Collections</tspan></text>
<text x="4147" y="487.5">+ __construct()<tspan x="4147" dy="14.5">+ id()</tspan><tspan x="4147" dy="14.5">+ exists()</tspan><tspan x="4147" dy="14.5">+ idOrNull()</tspan><tspan x="4147" dy="14.5">+ get()</tspan><tspan x="4147" dy="14.5">+ store()</tspan><tspan x="4147" dy="14.5">+ clone()</tspan><tspan x="4147" dy="14.5">+ remove()</tspan><tspan x="4147" dy="14.5">+ rangeAsArray()</tspan><tspan x="4147" dy="14.5">+ rangeAsGenerator()</tspan><tspan x="4147" dy="14.5">+ sort()</tspan></text></g>
<g id="n_ilCronDeleteInactiveUserReminderMail"><rect class="b" x="4161" y="701" width="210" height="39"/><rect class="b" x="4161" y="740" width="210" height="23"/><rect class="b" x="4161" y="763" width="210" height="124"/>
<text class="t" x="4266" y="716">ilCronDeleteInactiveUser<tspan x="4266" dy="14.5">ReminderMail</tspan></text>
<text x="4169" y="778">+ __construct()<tspan x="4169" dy="14.5">+ removeEntriesFromTableIf</tspan><tspan x="4169" dy="14.5">LastLoginIsNewer()</tspan><tspan x="4169" dy="14.5">+ sendReminderMailIfNeeded()</tspan><tspan x="4169" dy="14.5">+ flushDataTable()</tspan><tspan x="4169" dy="14.5">+ removeSingleUserFromTable()</tspan><tspan x="4169" dy="14.5">- persistMailSent()</tspan><tspan x="4169" dy="14.5">- sendReminder()</tspan></text></g>
<g id="n_RepositoryPreloader"><rect class="b" x="4398" y="475" width="203" height="39"/><rect class="b" x="4398" y="514" width="203" height="23"/><rect class="b" x="4398" y="537" width="203" height="22.5"/>
<text class="t" x="4499" y="490">ILIAS\ResourceStorage<tspan x="4499" dy="14.5">\Preloader\RepositoryPreloader</tspan></text>
<text x="4406" y="552">+ preload()</text></g>
<g id="n_Flavours"><rect class="b" x="4626" y="438" width="160" height="39"/><rect class="b" x="4626" y="477" width="160" height="23"/><rect class="b" x="4626" y="500" width="160" height="95"/>
<text class="t" x="4706" y="453">ILIAS\ResourceStorage<tspan x="4706" dy="14.5">\Flavour\Flavours</tspan></text>
<text x="4634" y="515">+ __construct()<tspan x="4634" dy="14.5">+ get()</tspan><tspan x="4634" dy="14.5">+ ensure()</tspan><tspan x="4634" dy="14.5">+ has()</tspan><tspan x="4634" dy="14.5">+ remove()</tspan><tspan x="4634" dy="14.5">+ possible()</tspan></text></g>
<g id="n_Consumers"><rect class="b" x="4810" y="409" width="161" height="39"/><rect class="b" x="4810" y="448" width="161" height="23"/><rect class="b" x="4810" y="471" width="161" height="153"/>
<text class="t" x="4890" y="424">ILIAS\LegalDocuments<tspan x="4890" dy="14.5">\Consumer\Consumers</tspan></text>
<text x="4818" y="486">+ __construct()<tspan x="4818" dy="14.5">+ download()</tspan><tspan x="4818" dy="14.5">+ inline()</tspan><tspan x="4818" dy="14.5">+ stream()</tspan><tspan x="4818" dy="14.5">+ src()</tspan><tspan x="4818" dy="14.5">+ downloadCollection()</tspan><tspan x="4818" dy="14.5">+ downloadResources()</tspan><tspan x="4818" dy="14.5">+ flavourUrls()</tspan><tspan x="4818" dy="14.5">+ containerZIP()</tspan><tspan x="4818" dy="14.5">+ containerURI()</tspan></text></g>
<g id="n_Manager"><rect class="b" x="4994" y="467" width="162" height="39"/><rect class="b" x="4994" y="506" width="162" height="23"/><rect class="b" x="4994" y="529" width="162" height="37"/>
<text class="t" x="5075" y="482">ILIAS\ResourceStorage<tspan x="5075" dy="14.5">\Manager\Manager</tspan></text>
<text x="5002" y="544">+ upload()<tspan x="5002" dy="14.5">+ stream()</tspan></text></g>
<g id="n_ContainerManager"><rect class="b" x="5230" y="431" width="223" height="39"/><rect class="b" x="5230" y="470" width="223" height="23"/><rect class="b" x="5230" y="493" width="223" height="109.5"/>
<text class="t" x="5341" y="446">ILIAS\ResourceStorage<tspan x="5341" dy="14.5">\Manager\ContainerManager</tspan></text>
<text x="5238" y="508">+ containerFromUpload()<tspan x="5238" dy="14.5">+ containerFromStream()</tspan><tspan x="5238" dy="14.5">+ createDirectoryInsideContainer()</tspan><tspan x="5238" dy="14.5">+ removePathInsideContainer()</tspan><tspan x="5238" dy="14.5">+ addUploadToContainer()</tspan><tspan x="5238" dy="14.5">+ addStreamToContainer()</tspan><tspan x="5238" dy="14.5"># normalizePath()</tspan></text></g>
<g id="n_Services"><rect class="b" x="4529" y="1045" width="160" height="39"/><rect class="b" x="4529" y="1084" width="160" height="23"/><rect class="b" x="4529" y="1107" width="160" height="124"/>
<text class="t" x="4609" y="1060">ILIAS\ResourceStorage<tspan x="4609" dy="14.5">\Services</tspan></text>
<text x="4537" y="1122">+ __construct()<tspan x="4537" dy="14.5">+ manage()</tspan><tspan x="4537" dy="14.5">+ manageContainer()</tspan><tspan x="4537" dy="14.5">+ consume()</tspan><tspan x="4537" dy="14.5">+ collection()</tspan><tspan x="4537" dy="14.5">+ flavours()</tspan><tspan x="4537" dy="14.5">+ preload()</tspan><tspan x="4537" dy="14.5">+ events()</tspan></text></g>
<g id="n_ilDclNotification"><rect class="b" x="5432" y="1389" width="134" height="24.5"/><rect class="b" x="5432" y="1413.5" width="134" height="23"/><rect class="b" x="5432" y="1436.5" width="134" height="109.5"/>
<text class="t" x="5499" y="1406">ilDclNotification</text>
<text x="5440" y="1451.5">+ __construct()<tspan x="5440" dy="14.5">+ has()</tspan><tspan x="5440" dy="14.5">+ add()</tspan><tspan x="5440" dy="14.5">+ delete()</tspan><tspan x="5440" dy="14.5">+ clear()</tspan><tspan x="5440" dy="14.5">+ deleteForObject()</tspan><tspan x="5440" dy="14.5">+ deleteForUser()</tspan></text></g>
<g id="n_ilCachedLanguage"><rect class="b" x="693" y="1621" width="139" height="24.5"/><rect class="b" x="693" y="1645.5" width="139" height="23"/><rect class="b" x="693" y="1668.5" width="139" height="240"/>
<text class="t" x="762" y="1638">ilCachedLanguage</text>
<text x="701" y="1683.5">+ getContainerKey()<tspan x="701" dy="14.5">+ isForced()</tspan><tspan x="701" dy="14.5">+ isActive()</tspan><tspan x="701" dy="14.5">+ writeToCache()</tspan><tspan x="701" dy="14.5">+ deleteInCache()</tspan><tspan x="701" dy="14.5">+ flush()</tspan><tspan x="701" dy="14.5">+ setLanguageKey()</tspan><tspan x="701" dy="14.5">+ getLanguageKey()</tspan><tspan x="701" dy="14.5">+ setLoaded()</tspan><tspan x="701" dy="14.5">+ getLoaded()</tspan><tspan x="701" dy="14.5">+ setTranslations()</tspan><tspan x="701" dy="14.5">+ getTranslations()</tspan><tspan x="701" dy="14.5">+ getInstance()</tspan><tspan x="701" dy="14.5"># __construct()</tspan><tspan x="701" dy="14.5"># readFromCache()</tspan><tspan x="701" dy="14.5"># readFromDB()</tspan></text></g>
<g id="n_LanguageLanguage"><rect class="b" x="946" y="1709" width="175" height="24.5"/><rect class="b" x="946" y="1733.5" width="175" height="23"/><rect class="b" x="946" y="1756.5" width="175" height="66"/>
<text class="t" x="1033" y="1726">ILIAS\Language\Language</text>
<text x="954" y="1771.5">+ txt()<tspan x="954" dy="14.5">+ loadLanguageModule()</tspan><tspan x="954" dy="14.5">+ getLangKey()</tspan><tspan x="954" dy="14.5">+ toJS()</tspan></text></g>
<g id="n_ilLanguage"><rect class="b" x="867" y="2084" width="179" height="24.5"/><rect class="b" x="867" y="2108.5" width="179" height="23"/><rect class="b" x="867" y="2131.5" width="179" height="269"/>
<text class="t" x="956" y="2101">ilLanguage</text>
<text x="875" y="2146.5">+ __construct()<tspan x="875" dy="14.5">+ getLangKey()</tspan><tspan x="875" dy="14.5">+ getDefaultLanguage()</tspan><tspan x="875" dy="14.5">+ getTextDirection()</tspan><tspan x="875" dy="14.5">+ getContentLanguage()</tspan><tspan x="875" dy="14.5">+ txtlng()</tspan><tspan x="875" dy="14.5">+ txt()</tspan><tspan x="875" dy="14.5">+ exists()</tspan><tspan x="875" dy="14.5">+ loadLanguageModule()</tspan><tspan x="875" dy="14.5">+ getInstalledLanguages()</tspan><tspan x="875" dy="14.5">and 7 more...</tspan><tspan x="875" dy="14.5">+ _getInstalledLanguages()</tspan><tspan x="875" dy="14.5">+ _lookupEntry()</tspan><tspan x="875" dy="14.5">+ lookupId()</tspan><tspan x="875" dy="14.5">+ getFallbackInstance()</tspan><tspan x="875" dy="14.5">+ getGlobalInstance()</tspan><tspan x="875" dy="14.5"># logUsage()</tspan><tspan x="875" dy="14.5"># isUsageLogEnabled()</tspan></text></g>
<g id="n_ilRbacAdmin"><rect class="b" x="1871" y="1643" width="189" height="24.5"/><rect class="b" x="1871" y="1667.5" width="189" height="23"/><rect class="b" x="1871" y="1690.5" width="189" height="196.5"/>
<text class="t" x="1965" y="1660">ilRbacAdmin</text>
<text x="1879" y="1705.5">+ __construct()<tspan x="1879" dy="14.5">+ setBlockedStatus()</tspan><tspan x="1879" dy="14.5">+ removeUser()</tspan><tspan x="1879" dy="14.5">+ deleteRole()</tspan><tspan x="1879" dy="14.5">+ deleteTemplate()</tspan><tspan x="1879" dy="14.5">+ deleteLocalRole()</tspan><tspan x="1879" dy="14.5">+ assignUserLimited()</tspan><tspan x="1879" dy="14.5">+ assignUser()</tspan><tspan x="1879" dy="14.5">+ deassignUser()</tspan><tspan x="1879" dy="14.5">+ grantPermission()</tspan><tspan x="1879" dy="14.5">and 18 more...</tspan><tspan x="1879" dy="14.5"># applyMovedObjectDidactic</tspan><tspan x="1879" dy="14.5">Templates()</tspan></text></g>
<g id="n_ilTree"><rect class="b" x="2718" y="1578" width="223" height="24.5"/><rect class="b" x="2718" y="1602.5" width="223" height="22.5"/><rect class="b" x="2718" y="1625" width="223" height="312.5"/>
<text class="t" x="2829" y="1595">ilTree</text>
<text x="2726" y="1618"># DEFAULT_GAP</text>
<text x="2726" y="1640">+ __construct()<tspan x="2726" dy="14.5">+ initTreeImplementation()</tspan><tspan x="2726" dy="14.5">+ getTreeImplementation()</tspan><tspan x="2726" dy="14.5">+ useCache()</tspan><tspan x="2726" dy="14.5">+ getDepthCache()</tspan><tspan x="2726" dy="14.5">+ getParentCache()</tspan><tspan x="2726" dy="14.5">+ initLangCode()</tspan><tspan x="2726" dy="14.5">+ getTreeTable()</tspan><tspan x="2726" dy="14.5">+ getObjectDataTable()</tspan><tspan x="2726" dy="14.5">+ getTreePk()</tspan><tspan x="2726" dy="14.5">and 60 more...</tspan><tspan x="2726" dy="14.5">+ lookupTreesForNode()</tspan><tspan x="2726" dy="14.5">+ _removeEntry()</tspan><tspan x="2726" dy="14.5"># isCacheUsed()</tspan><tspan x="2726" dy="14.5"># resetInTreeCache()</tspan><tspan x="2726" dy="14.5"># fetchTranslationFromObject</tspan><tspan x="2726" dy="14.5">DataCache()</tspan><tspan x="2726" dy="14.5"># __renumber()</tspan><tspan x="2726" dy="14.5"># __checkDelete()</tspan><tspan x="2726" dy="14.5"># __getSubTreeByParentRelation()</tspan><tspan x="2726" dy="14.5"># __validateSubtrees()</tspan><tspan x="2726" dy="14.5"># isRepositoryTree()</tspan></text></g>
<g id="n_Properties"><rect class="b" x="2889" y="2114" width="233" height="39"/><rect class="b" x="2889" y="2153" width="233" height="23"/><rect class="b" x="2889" y="2176" width="233" height="196.5"/>
<text class="t" x="3005" y="2129">ILIAS\ILIASObject\Properties<tspan x="3005" dy="14.5">\Properties</tspan></text>
<text x="2897" y="2191">+ __construct()<tspan x="2897" dy="14.5">+ storeCoreProperties()</tspan><tspan x="2897" dy="14.5">+ getOwner()</tspan><tspan x="2897" dy="14.5">+ withOwner()</tspan><tspan x="2897" dy="14.5">+ getImportId()</tspan><tspan x="2897" dy="14.5">+ withImportId()</tspan><tspan x="2897" dy="14.5">+ getPropertyTitleAndDescription()</tspan><tspan x="2897" dy="14.5">+ withPropertyTitleAndDescription()</tspan><tspan x="2897" dy="14.5">+ storePropertyTitleAndDescription()</tspan><tspan x="2897" dy="14.5">+ getPropertyIsOnline()</tspan><tspan x="2897" dy="14.5">and 16 more...</tspan><tspan x="2897" dy="14.5">- updateMetadataForTitleAnd</tspan><tspan x="2897" dy="14.5">Description()</tspan></text></g>
<g id="n_Aggregator"><rect class="b" x="3149" y="2187" width="193" height="39"/><rect class="b" x="3149" y="2226" width="193" height="23"/><rect class="b" x="3149" y="2249" width="193" height="51.5"/>
<text class="t" x="3245" y="2202">ILIAS\ILIASObject\Properties<tspan x="3245" dy="14.5">\Aggregator</tspan></text>
<text x="3157" y="2264">+ __construct()<tspan x="3157" dy="14.5">+ getFor()</tspan><tspan x="3157" dy="14.5">+ preload()</tspan></text></g>
<g id="n_ilObject"><rect class="b" x="2237" y="2474" width="227" height="24.5"/><rect class="b" x="2237" y="2498.5" width="227" height="23"/><rect class="b" x="2237" y="2521.5" width="227" height="563"/>
<text class="t" x="2350" y="2491">ilObject</text>
<text x="2245" y="2536.5">+ getObjectProperties()<tspan x="2245" dy="14.5">+ flushObjectProperties()</tspan><tspan x="2245" dy="14.5">+ withReferences()</tspan><tspan x="2245" dy="14.5">+ processAutoRating()</tspan><tspan x="2245" dy="14.5">+ read()</tspan><tspan x="2245" dy="14.5">+ getId()</tspan><tspan x="2245" dy="14.5">+ setId()</tspan><tspan x="2245" dy="14.5">+ setRefId()</tspan><tspan x="2245" dy="14.5">+ getRefId()</tspan><tspan x="2245" dy="14.5">+ getType()</tspan><tspan x="2245" dy="14.5">and 40 more...</tspan><tspan x="2245" dy="14.5">+ _lookupObjIdByImportId()</tspan><tspan x="2245" dy="14.5">+ _lookupImportId()</tspan><tspan x="2245" dy="14.5">+ _lookupOwnerName()</tspan><tspan x="2245" dy="14.5">+ _getIdForImportId()</tspan><tspan x="2245" dy="14.5">+ _getAllReferences()</tspan><tspan x="2245" dy="14.5">+ _lookupTitle()</tspan><tspan x="2245" dy="14.5">+ lookupOfflineStatus()</tspan><tspan x="2245" dy="14.5">+ _lookupOwner()</tspan><tspan x="2245" dy="14.5">+ _getIdsForTitle()</tspan><tspan x="2245" dy="14.5">+ _lookupDescription()</tspan><tspan x="2245" dy="14.5">and 27 more...</tspan><tspan x="2245" dy="14.5"># doMDUpdateListener()</tspan><tspan x="2245" dy="14.5"># beforeMDUpdateListener()</tspan><tspan x="2245" dy="14.5"># doCreateMetaData()</tspan><tspan x="2245" dy="14.5"># beforeCreateMetaData()</tspan><tspan x="2245" dy="14.5"># doUpdateMetaData()</tspan><tspan x="2245" dy="14.5"># beforeUpdateMetaData()</tspan><tspan x="2245" dy="14.5"># doDeleteMetaData()</tspan><tspan x="2245" dy="14.5"># beforeDeleteMetaData()</tspan><tspan x="2245" dy="14.5"># handleAutoRating()</tspan><tspan x="2245" dy="14.5"># hasAutoRating()</tspan><tspan x="2245" dy="14.5">- appendCopyInfoToTranslations()</tspan><tspan x="2245" dy="14.5">- getCallbackForTitlesPerLanguage</tspan><tspan x="2245" dy="14.5">Transformation()</tspan><tspan x="2245" dy="14.5">- appendNumberOfCopiesToTitle()</tspan><tspan x="2245" dy="14.5">- isTitleUnique()</tspan><tspan x="2245" dy="14.5">- buildTitleWithoutCopySuffix()</tspan></text></g>
<g id="n_ilObjUser"><rect class="b" x="3830" y="3156" width="202" height="24.5"/><rect class="b" x="3830" y="3180.5" width="202" height="327"/><rect class="b" x="3830" y="3507.5" width="202" height="399.5"/>
<text class="t" x="3931" y="3173">ilObjUser</text>
<text x="3838" y="3195.5">+ $login<tspan x="3838" dy="14.5">+ $gender</tspan><tspan x="3838" dy="14.5">+ $utitle</tspan><tspan x="3838" dy="14.5">+ $firstname</tspan><tspan x="3838" dy="14.5">+ $lastname</tspan><tspan x="3838" dy="14.5">+ $fullname</tspan><tspan x="3838" dy="14.5">+ $department</tspan><tspan x="3838" dy="14.5">+ $street</tspan><tspan x="3838" dy="14.5">+ $city</tspan><tspan x="3838" dy="14.5">+ $country</tspan><tspan x="3838" dy="14.5">and 12 more...</tspan><tspan x="3838" dy="14.5"># $time_limit_message</tspan><tspan x="3838" dy="14.5"># $last_login</tspan><tspan x="3838" dy="14.5"># $passwd</tspan><tspan x="3838" dy="14.5"># $password_encoding_type</tspan><tspan x="3838" dy="14.5"># $password_salt</tspan><tspan x="3838" dy="14.5"># $birthday</tspan><tspan x="3838" dy="14.5"># $second_email</tspan><tspan x="3838" dy="14.5"># $inactivation_date</tspan><tspan x="3838" dy="14.5"># $org_units</tspan><tspan x="3838" dy="14.5"># $last_profile_prompt</tspan><tspan x="3838" dy="14.5"># $avatar_rid</tspan></text>
<text x="3838" y="3522.5">+ __construct()<tspan x="3838" dy="14.5">+ read()</tspan><tspan x="3838" dy="14.5">+ getPasswordEncodingType()</tspan><tspan x="3838" dy="14.5">+ setPasswordEncodingType()</tspan><tspan x="3838" dy="14.5">+ getPasswordSalt()</tspan><tspan x="3838" dy="14.5">+ setPasswordSalt()</tspan><tspan x="3838" dy="14.5">+ assignData()</tspan><tspan x="3838" dy="14.5">+ saveAsNew()</tspan><tspan x="3838" dy="14.5">+ update()</tspan><tspan x="3838" dy="14.5">+ writeAccepted()</tspan><tspan x="3838" dy="14.5">and 169 more...</tspan><tspan x="3838" dy="14.5">+ _lookupFullname()</tspan><tspan x="3838" dy="14.5">+ _lookupEmail()</tspan><tspan x="3838" dy="14.5">+ _lookupGender()</tspan><tspan x="3838" dy="14.5">+ _lookupClientIP()</tspan><tspan x="3838" dy="14.5">+ _lookupName()</tspan><tspan x="3838" dy="14.5">+ _lookupFields()</tspan><tspan x="3838" dy="14.5">+ _lookupLogin()</tspan><tspan x="3838" dy="14.5">+ _lookupExternalAccount()</tspan><tspan x="3838" dy="14.5">+ _lookupId()</tspan><tspan x="3838" dy="14.5">+ _lookupLastLogin()</tspan><tspan x="3838" dy="14.5">and 62 more...</tspan><tspan x="3838" dy="14.5"># buildTextFromArray()</tspan><tspan x="3838" dy="14.5"># readMultiTextFields()</tspan><tspan x="3838" dy="14.5"># deleteMultiTextFields()</tspan><tspan x="3838" dy="14.5">- _lookup()</tspan><tspan x="3838" dy="14.5">- getLoginFromAuth()</tspan></text></g>
<g id="n_ilObject2"><rect class="b" x="4270" y="3383" width="151" height="24.5"/><rect class="b" x="4270" y="3407.5" width="151" height="23"/><rect class="b" x="4270" y="3430.5" width="151" height="254.5"/>
<text class="t" x="4345" y="3400">ilObject2</text>
<text x="4278" y="3445.5">+ __construct()<tspan x="4278" dy="14.5">+ read()</tspan><tspan x="4278" dy="14.5">+ create()</tspan><tspan x="4278" dy="14.5">+ update()</tspan><tspan x="4278" dy="14.5">+ delete()</tspan><tspan x="4278" dy="14.5">+ cloneMetaData()</tspan><tspan x="4278" dy="14.5">+ cloneObject()</tspan><tspan x="4278" dy="14.5"># initType()</tspan><tspan x="4278" dy="14.5"># doRead()</tspan><tspan x="4278" dy="14.5"># doCreate()</tspan><tspan x="4278" dy="14.5"># beforeCreate()</tspan><tspan x="4278" dy="14.5"># doUpdate()</tspan><tspan x="4278" dy="14.5"># beforeUpdate()</tspan><tspan x="4278" dy="14.5"># doDelete()</tspan><tspan x="4278" dy="14.5"># beforeDelete()</tspan><tspan x="4278" dy="14.5"># doCloneObject()</tspan><tspan x="4278" dy="14.5"># beforeCloneObject()</tspan></text></g>
<g id="n_ilObjDataCollection"><rect class="b" x="4593" y="3972" width="179" height="24.5"/><rect class="b" x="4593" y="3996.5" width="179" height="23"/><rect class="b" x="4593" y="4019.5" width="179" height="254.5"/>
<text class="t" x="4682" y="3989">ilObjDataCollection</text>
<text x="4601" y="4034.5">+ __construct()<tspan x="4601" dy="14.5">+ sendRecordNotification()</tspan><tspan x="4601" dy="14.5">+ cloneStructure()</tspan><tspan x="4601" dy="14.5">+ setOnline()</tspan><tspan x="4601" dy="14.5">+ getOnline()</tspan><tspan x="4601" dy="14.5">+ setRating()</tspan><tspan x="4601" dy="14.5">+ getRating()</tspan><tspan x="4601" dy="14.5">+ setPublicNotes()</tspan><tspan x="4601" dy="14.5">+ getPublicNotes()</tspan><tspan x="4601" dy="14.5">+ setApproval()</tspan><tspan x="4601" dy="14.5">and 7 more...</tspan><tspan x="4601" dy="14.5"># initType()</tspan><tspan x="4601" dy="14.5"># doRead()</tspan><tspan x="4601" dy="14.5"># doCreate()</tspan><tspan x="4601" dy="14.5"># doDelete()</tspan><tspan x="4601" dy="14.5"># doUpdate()</tspan><tspan x="4601" dy="14.5"># doCloneObject()</tspan></text></g>
<g id="n_ilDclContentImporter"><rect class="h" x="4520" y="4346" width="194" height="24.5"/><rect class="h" x="4520" y="4370.5" width="194" height="23"/><rect class="h" x="4520" y="4393.5" width="194" height="66"/>
<text class="t" x="4617" y="4363">ilDclContentImporter</text>
<text x="4528" y="4408.5">+ __construct()<tspan x="4528" dy="14.5">+ import()</tspan><tspan x="4528" dy="14.5"># checkImportType()</tspan><tspan x="4528" dy="14.5"># getImportFieldsFromTitles()</tspan></text></g>
</svg>
